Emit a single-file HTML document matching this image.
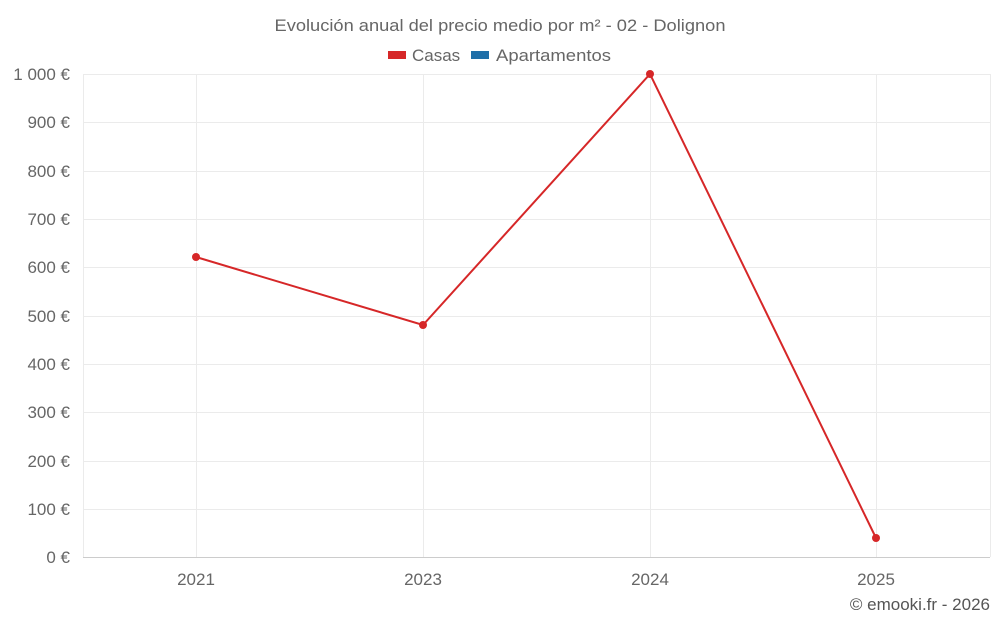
<!DOCTYPE html>
<html><head><meta charset="utf-8"><style>
body{margin:0;background:#fff;}
svg{display:block;font-family:"Liberation Sans",sans-serif;}
</style></head><body>
<svg width="1000" height="625" viewBox="0 0 1000 625">
<text x="500" y="31" text-anchor="middle" font-size="17" fill="#666" textLength="451" lengthAdjust="spacingAndGlyphs">Evolución anual del precio medio por m² - 02 - Dolignon</text>
<rect x="388" y="51" width="18" height="8" fill="#d62728"/>
<text x="412" y="61" font-size="17" fill="#666">Casas</text>
<rect x="471" y="51" width="18" height="8" fill="#1f6fa8"/>
<text x="496" y="61" font-size="17" fill="#666" textLength="115" lengthAdjust="spacingAndGlyphs">Apartamentos</text>
<g stroke="#ebebeb" stroke-width="1">
<line x1="83" y1="74.5" x2="990" y2="74.5"/><line x1="83" y1="122.5" x2="990" y2="122.5"/>
<line x1="83" y1="171.5" x2="990" y2="171.5"/><line x1="83" y1="219.5" x2="990" y2="219.5"/>
<line x1="83" y1="267.5" x2="990" y2="267.5"/><line x1="83" y1="316.5" x2="990" y2="316.5"/>
<line x1="83" y1="364.5" x2="990" y2="364.5"/><line x1="83" y1="412.5" x2="990" y2="412.5"/>
<line x1="83" y1="461.5" x2="990" y2="461.5"/><line x1="83" y1="509.5" x2="990" y2="509.5"/>
<line x1="83.5" y1="74" x2="83.5" y2="557"/><line x1="196.5" y1="74" x2="196.5" y2="557"/>
<line x1="423.5" y1="74" x2="423.5" y2="557"/><line x1="650.5" y1="74" x2="650.5" y2="557"/>
<line x1="876.5" y1="74" x2="876.5" y2="557"/><line x1="990.5" y1="74" x2="990.5" y2="557"/>
</g>
<line x1="83" y1="557.5" x2="990" y2="557.5" stroke="#ccc"/>
<g font-size="17" fill="#666" text-anchor="end">
<text x="70" y="80">1 000 €</text><text x="70" y="128">900 €</text><text x="70" y="177">800 €</text>
<text x="70" y="225">700 €</text><text x="70" y="273">600 €</text><text x="70" y="322">500 €</text>
<text x="70" y="370">400 €</text><text x="70" y="418">300 €</text><text x="70" y="467">200 €</text>
<text x="70" y="515">100 €</text><text x="70" y="563">0 €</text>
</g>
<g font-size="17" fill="#666" text-anchor="middle">
<text x="196" y="585">2021</text><text x="423" y="585">2023</text><text x="650" y="585">2024</text><text x="876" y="585">2025</text>
</g>
<text x="990" y="610" text-anchor="end" font-size="17" fill="#555">© emooki.fr - 2026</text>
<polyline points="196,257 423,325 650,74 876,538" fill="none" stroke="#d62728" stroke-width="2"/>
<g fill="#d62728"><circle cx="196" cy="257" r="4"/><circle cx="423" cy="325" r="4"/><circle cx="650" cy="74" r="4"/><circle cx="876" cy="538" r="4"/></g>
</svg>
</body></html>
